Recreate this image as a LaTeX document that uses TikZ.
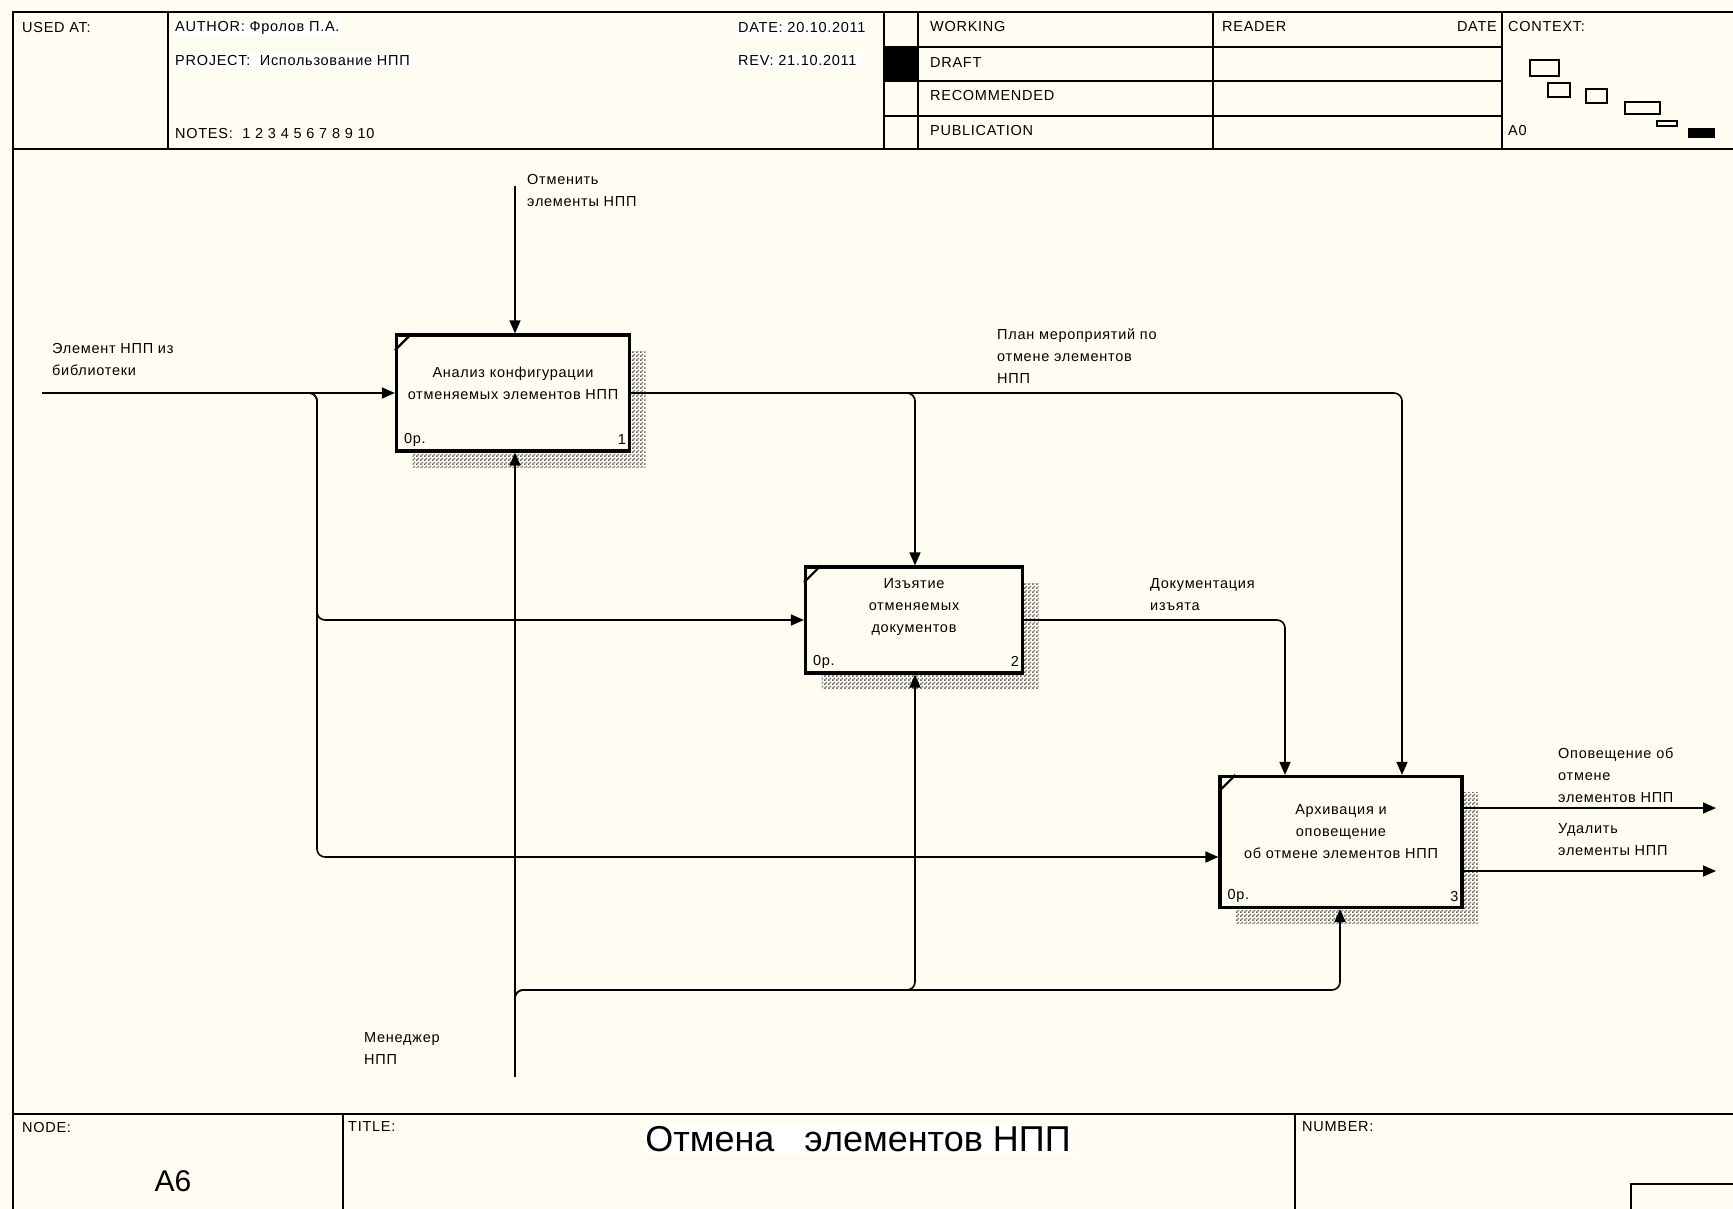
\documentclass[tikz,border=0pt]{standalone}
\usepackage{fontspec}
\setmainfont{Liberation Sans}
\newfontfamily\idef{Liberation Sans}[LetterSpace=5]
\usetikzlibrary{arrows.meta,positioning,calc,shadows,patterns}
\definecolor{paper}{RGB}{255,253,241}
\pgfdeclarepatternformonly{shadedots}{\pgfpointorigin}{\pgfpoint{4pt}{4pt}}{\pgfpoint{4pt}{4pt}}{%
  \pgfpathrectangle{\pgfpointorigin}{\pgfpoint{2pt}{2pt}}%
  \pgfpathrectangle{\pgfpoint{2pt}{2pt}}{\pgfpoint{2pt}{2pt}}%
  \pgfusepath{fill}}

\begin{document}
\begin{tikzpicture}[x=1pt,y=-1pt,>={Triangle[length=13pt,width=11pt]},
every node/.style={font=\idef\fontsize{14.5}{22}\selectfont, inner sep=0pt},
func/.style={draw, line width=3.2pt, fill=paper,
  general shadow={shadow xshift=16pt, shadow yshift=-16pt, pattern=shadedots, pattern color=black!60}},
boxtxt/.style={align=center},
arc/.style={line width=1.6pt, rounded corners=8pt},
frame/.style={line width=1.8pt},
lbl/.style={anchor=west, align=left},
hdr/.style={anchor=west},
white/.style={fill=white, inner sep=2pt}]
\fill[paper] (0,0) rectangle (1733,1209);
\useasboundingbox (0,0) rectangle (1733,1209);
% frame
\draw[frame] (13,1209) -- (13,12) -- (1733,12);
\draw[frame] (13,149) -- (1733,149);
\draw[frame] (168,12) -- (168,149);
\draw[frame] (884,12) -- (884,149);
\draw[frame] (918,12) -- (918,149);
\draw[frame] (1213,12) -- (1213,149);
\draw[frame] (1502,12) -- (1502,149);
\draw[frame] (884,47) -- (1502,47);
\draw[frame] (884,81) -- (1502,81);
\draw[frame] (884,116) -- (1502,116);
\fill (884,47) rectangle (918,81);
\draw[frame] (13,1114) -- (1733,1114);
\draw[frame] (343,1114) -- (343,1209);
\draw[frame] (1295,1114) -- (1295,1209);
\draw[frame] (1733,1184) -- (1631,1184) -- (1631,1209);
% header
\node[hdr] (usedat) at (22,28) {USED AT:};
\node[hdr,white] (author) at (173,28) {AUTHOR: Фролов П.А.};
\node[hdr,white] (project) at (173,61) {PROJECT:\ \ Использование НПП};
\node[hdr] (notes) at (175,134) {NOTES:\ \ 1 2 3 4 5 6 7 8 9 10};
\node[hdr,white] (date) at (736,28) {DATE: 20.10.2011};
\node[hdr,white] (rev) at (736,61) {REV: 21.10.2011};
\node[hdr] (working) at (930,27) {WORKING};
\node[hdr] (draft) at (930,63) {DRAFT};
\node[hdr] (recom) at (930,96) {RECOMMENDED};
\node[hdr] (publ) at (930,131) {PUBLICATION};
\node[hdr] (reader) at (1222,27) {READER};
\node[anchor=east] (rdate) at (1497,27) {DATE};
\node[hdr] (context) at (1508,27) {CONTEXT:};
\node[hdr] (ctxnode) at (1508,131) {A0};
% context
\draw[line width=1.5pt] (1530,60) rectangle (1559,76);
\draw[line width=1.5pt] (1548,83) rectangle (1570,97);
\draw[line width=1.5pt] (1586,89) rectangle (1607,103);
\draw[line width=1.5pt] (1625,102) rectangle (1660,114);
\draw[line width=1.5pt] (1657,121) rectangle (1677,126);
\fill (1688,128) rectangle (1715,138);
% footer
\node[hdr] (nodelbl) at (22,1127) {NODE:};
\node[hdr] (titlelbl) at (348,1127) {TITLE:};
\node[hdr] (numlbl) at (1302,1127) {NUMBER:};
\node[font=\fontsize{30}{36}\selectfont] (nodeid) at (173,1181) {A6};
\node[white,font=\fontsize{36}{42}\selectfont] (title) at (858,1139) {Отмена\hspace{30pt}элементов НПП};
% functions
\node[func, minimum width=233pt, minimum height=116pt] (a1) at (513,393) {};
\node[func, minimum width=217pt, minimum height=106pt] (a2) at (914,620) {};
\node[func, minimum width=242pt, minimum height=131pt] (a3) at (1341,842) {};
\node[boxtxt] (a1t) at (513,383) {Анализ конфигурации\\отменяемых элементов НПП};
\node[boxtxt] (a2t) at (914,607) {Изъятие\\отменяемых\\документов};
\node[boxtxt] (a3t) at (1341,832) {Архивация и\\оповещение\\об отмене элементов НПП};
\foreach \b/\n in {a1/1,a2/2,a3/3} {
  \draw[line width=2.2pt] ($(\b.north west)+(0,17)$) -- ($(\b.north west)+(17,0)$);
  \node[anchor=west] (\b-cost) at ($(\b.south west)+(9,-13)$) {0р.};
  \node[anchor=east] (\b-num) at ($(\b.south east)+(-5,-13)$) {\n};
}
% inputs
\coordinate (inL) at (42,393);
\coordinate (j0) at (305,393);
\coordinate (j1) at (317,393);
\coordinate (j2) at (317,857);
\draw[arc,->] (inL) -- (a1.west);
\draw[arc,->] (j0) -- (j1) |- (a2.west);
\draw[arc,->] (j0) -- (j1) -- (j2) -- (j2 -| a3.west);
% controls
\coordinate (c0) at (515,186);
\draw[arc,->] (c0) -- (c0 |- a1.north);
\coordinate (o1) at (1402,393);
\coordinate (k0) at (900,393);
\coordinate (k1) at (915,393);
\draw[arc,->] (a1.east) -- (o1) -- (o1 |- a3.north);
\draw[arc,->] (k0) -- (k1) -- (k1 |- a2.north);
\coordinate (o2) at (1285,620);
\draw[arc,->] (a2.east) -- (o2) -- (o2 |- a3.north);
% outputs
\coordinate (e1) at (1716,808);
\coordinate (e2) at (1716,871);
\draw[arc,->] (a3.east |- e1) -- (e1);
\draw[arc,->] (a3.east |- e2) -- (e2);
% mechanisms
\coordinate (m0) at (515,1077);
\coordinate (m1) at (515,990);
\coordinate (m2) at (515,1004);
\coordinate (m3) at (915,990);
\coordinate (m4) at (1340,990);
\draw[arc,->] (m0) -- (m0 |- a1.south);
\draw[arc,->] (m2) -- (m1) -- (m3) -- (m3 |- a2.south);
\draw[arc,->] (m2) -- (m1) -- (m4) -- (m4 |- a3.south);
% labels
\node[lbl] (tIn) at (52,360) {Элемент НПП из\\библиотеки};
\node[lbl] (tCtl) at (527,191) {Отменить\\элементы НПП};
\node[lbl] (tPlan) at (997,356) {План мероприятий по\\отмене элементов\\НПП};
\node[lbl] (tDoc) at (1150,595) {Документация\\изъята};
\node[lbl] (tOut1) at (1558,775) {Оповещение об\\отмене\\элементов НПП};
\node[lbl] (tOut2) at (1558,840) {Удалить\\элементы НПП};
\node[lbl] (tMech) at (364,1049) {Менеджер\\НПП};
\end{tikzpicture}
\end{document}
